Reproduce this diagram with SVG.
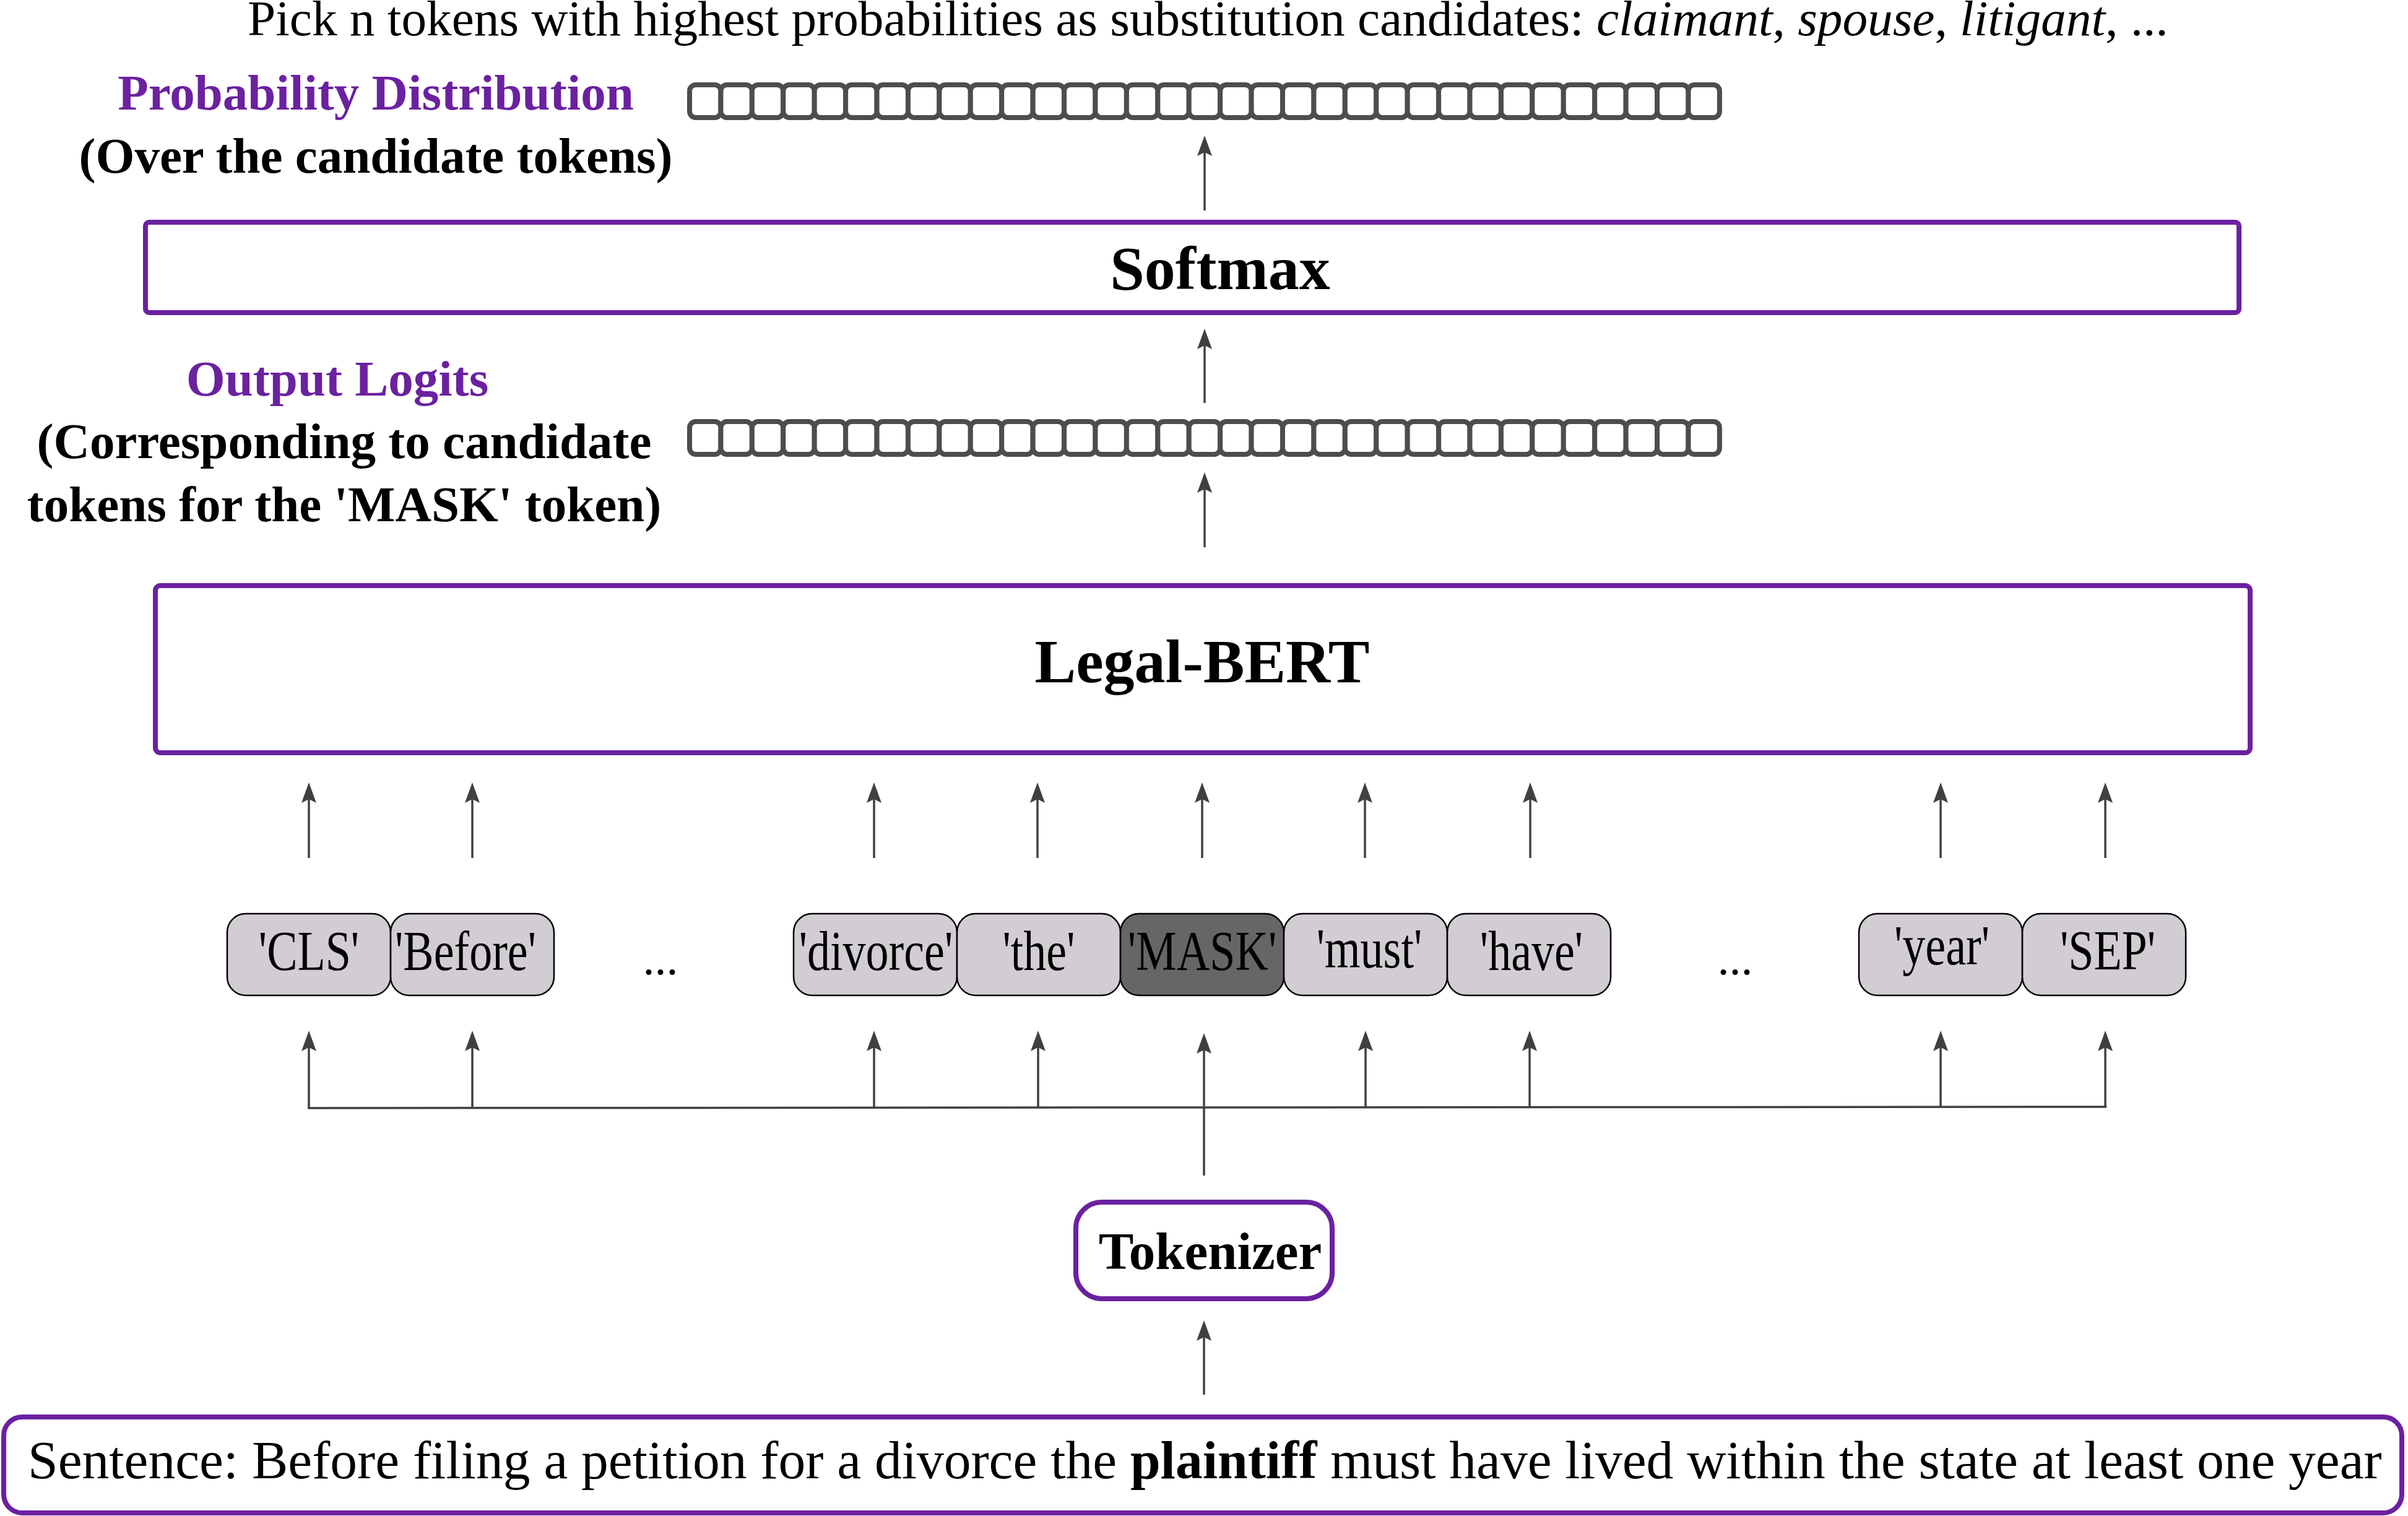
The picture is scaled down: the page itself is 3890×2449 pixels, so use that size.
<svg xmlns="http://www.w3.org/2000/svg" width="3890" height="2449" viewBox="0 0 3890 2449">
<style>
text{font-family:"Liberation Serif","Times New Roman",serif;fill:#000}
.b{font-weight:bold}
.pur{fill:#6B21A0}
.lbl{font-size:81px;font-weight:bold;text-anchor:middle}
.box{fill:#fff;stroke:#6B21A0;stroke-width:8}
.cell{fill:#fff;stroke:#4D4D4D;stroke-width:8}
.tok{fill:#D1CDD3;stroke:#000;stroke-width:2.5}
.tokd{fill:#666666;stroke:#000;stroke-width:2.5}
.tt{font-size:74px;text-anchor:middle}
.ar{stroke:#404040;stroke-width:3.5;fill:none;marker-end:url(#ah)}
.ln{stroke:#404040;stroke-width:3.5;fill:none}
</style>
<defs>
<marker id="ah" viewBox="0 -13 34 26" markerWidth="34" markerHeight="26" refX="6" refY="0" orient="auto" markerUnits="userSpaceOnUse">
<path d="M0,-12 L33,0 L0,12 L6,0 Z" fill="#404040"/>
</marker>
</defs>

<g id="top-note">
<text x="400" y="57" font-size="81.3">Pick n tokens with highest probabilities as substitution candidates: <tspan font-style="italic">claimant</tspan>, <tspan font-style="italic">spouse</tspan>, <tspan font-style="italic">litigant</tspan>, ...</text>
</g>

<g id="prob-label">
<text class="lbl pur" x="607" y="177">Probability Distribution</text>
<text class="lbl" x="607" y="279">(Over the candidate tokens)</text>
</g>

<g id="prob-vector">
<g transform="translate(0,137)">
<rect class="cell" x="1114.00" y="0" width="50.42" height="53" rx="10"/><rect class="cell" x="1164.42" y="0" width="50.42" height="53" rx="10"/><rect class="cell" x="1214.84" y="0" width="50.42" height="53" rx="10"/><rect class="cell" x="1265.26" y="0" width="50.42" height="53" rx="10"/><rect class="cell" x="1315.68" y="0" width="50.42" height="53" rx="10"/><rect class="cell" x="1366.10" y="0" width="50.42" height="53" rx="10"/><rect class="cell" x="1416.52" y="0" width="50.42" height="53" rx="10"/><rect class="cell" x="1466.94" y="0" width="50.42" height="53" rx="10"/><rect class="cell" x="1517.36" y="0" width="50.42" height="53" rx="10"/><rect class="cell" x="1567.78" y="0" width="50.42" height="53" rx="10"/><rect class="cell" x="1618.20" y="0" width="50.42" height="53" rx="10"/><rect class="cell" x="1668.62" y="0" width="50.42" height="53" rx="10"/><rect class="cell" x="1719.04" y="0" width="50.42" height="53" rx="10"/><rect class="cell" x="1769.46" y="0" width="50.42" height="53" rx="10"/><rect class="cell" x="1819.88" y="0" width="50.42" height="53" rx="10"/><rect class="cell" x="1870.30" y="0" width="50.42" height="53" rx="10"/><rect class="cell" x="1920.72" y="0" width="50.42" height="53" rx="10"/><rect class="cell" x="1971.14" y="0" width="50.42" height="53" rx="10"/><rect class="cell" x="2021.56" y="0" width="50.42" height="53" rx="10"/><rect class="cell" x="2071.98" y="0" width="50.42" height="53" rx="10"/><rect class="cell" x="2122.40" y="0" width="50.42" height="53" rx="10"/><rect class="cell" x="2172.82" y="0" width="50.42" height="53" rx="10"/><rect class="cell" x="2223.24" y="0" width="50.42" height="53" rx="10"/><rect class="cell" x="2273.66" y="0" width="50.42" height="53" rx="10"/><rect class="cell" x="2324.08" y="0" width="50.42" height="53" rx="10"/><rect class="cell" x="2374.50" y="0" width="50.42" height="53" rx="10"/><rect class="cell" x="2424.92" y="0" width="50.42" height="53" rx="10"/><rect class="cell" x="2475.34" y="0" width="50.42" height="53" rx="10"/><rect class="cell" x="2525.76" y="0" width="50.42" height="53" rx="10"/><rect class="cell" x="2576.18" y="0" width="50.42" height="53" rx="10"/><rect class="cell" x="2626.60" y="0" width="50.42" height="53" rx="10"/><rect class="cell" x="2677.02" y="0" width="50.42" height="53" rx="10"/><rect class="cell" x="2727.44" y="0" width="50.42" height="53" rx="10"/>
</g>
</g>

<g id="softmax">
<rect class="box" x="235" y="359" width="3382" height="146" rx="6"/>
<text class="b" x="1971" y="467" font-size="100" text-anchor="middle">Softmax</text>
</g>

<g id="logits-label">
<text class="lbl pur" x="545" y="639">Output Logits</text>
<text class="lbl" x="556" y="740">(Corresponding to candidate</text>
<text class="lbl" x="556" y="842">tokens for the 'MASK' token)</text>
</g>

<g id="logits-vector">
<g transform="translate(0,681)">
<rect class="cell" x="1114.00" y="0" width="50.42" height="53" rx="10"/><rect class="cell" x="1164.42" y="0" width="50.42" height="53" rx="10"/><rect class="cell" x="1214.84" y="0" width="50.42" height="53" rx="10"/><rect class="cell" x="1265.26" y="0" width="50.42" height="53" rx="10"/><rect class="cell" x="1315.68" y="0" width="50.42" height="53" rx="10"/><rect class="cell" x="1366.10" y="0" width="50.42" height="53" rx="10"/><rect class="cell" x="1416.52" y="0" width="50.42" height="53" rx="10"/><rect class="cell" x="1466.94" y="0" width="50.42" height="53" rx="10"/><rect class="cell" x="1517.36" y="0" width="50.42" height="53" rx="10"/><rect class="cell" x="1567.78" y="0" width="50.42" height="53" rx="10"/><rect class="cell" x="1618.20" y="0" width="50.42" height="53" rx="10"/><rect class="cell" x="1668.62" y="0" width="50.42" height="53" rx="10"/><rect class="cell" x="1719.04" y="0" width="50.42" height="53" rx="10"/><rect class="cell" x="1769.46" y="0" width="50.42" height="53" rx="10"/><rect class="cell" x="1819.88" y="0" width="50.42" height="53" rx="10"/><rect class="cell" x="1870.30" y="0" width="50.42" height="53" rx="10"/><rect class="cell" x="1920.72" y="0" width="50.42" height="53" rx="10"/><rect class="cell" x="1971.14" y="0" width="50.42" height="53" rx="10"/><rect class="cell" x="2021.56" y="0" width="50.42" height="53" rx="10"/><rect class="cell" x="2071.98" y="0" width="50.42" height="53" rx="10"/><rect class="cell" x="2122.40" y="0" width="50.42" height="53" rx="10"/><rect class="cell" x="2172.82" y="0" width="50.42" height="53" rx="10"/><rect class="cell" x="2223.24" y="0" width="50.42" height="53" rx="10"/><rect class="cell" x="2273.66" y="0" width="50.42" height="53" rx="10"/><rect class="cell" x="2324.08" y="0" width="50.42" height="53" rx="10"/><rect class="cell" x="2374.50" y="0" width="50.42" height="53" rx="10"/><rect class="cell" x="2424.92" y="0" width="50.42" height="53" rx="10"/><rect class="cell" x="2475.34" y="0" width="50.42" height="53" rx="10"/><rect class="cell" x="2525.76" y="0" width="50.42" height="53" rx="10"/><rect class="cell" x="2576.18" y="0" width="50.42" height="53" rx="10"/><rect class="cell" x="2626.60" y="0" width="50.42" height="53" rx="10"/><rect class="cell" x="2677.02" y="0" width="50.42" height="53" rx="10"/><rect class="cell" x="2727.44" y="0" width="50.42" height="53" rx="10"/>
</g>
</g>

<g id="legal-bert">
<rect class="box" x="251" y="946" width="3384" height="270" rx="8"/>
<text class="b" x="1942" y="1102" font-size="100" text-anchor="middle">Legal-BERT</text>
</g>

<g id="tok-cls"><rect class="tok" x="367" y="1476" width="264" height="132" rx="30"/><text class="tt" transform="matrix(1,0,0,1.22,499,1567)">'CLS'</text></g>
<g id="tok-before"><rect class="tok" x="631" y="1476" width="264" height="132" rx="30"/><text class="tt" transform="matrix(1,0,0,1.22,752,1567)">'Before'</text></g>
<g id="dots-1"><text font-size="76" x="1067" y="1574" text-anchor="middle">...</text></g>
<g id="tok-divorce"><rect class="tok" x="1282" y="1476" width="264" height="132" rx="30"/><text class="tt" transform="matrix(1,0,0,1.22,1415,1567)">'divorce'</text></g>
<g id="tok-the"><rect class="tok" x="1546" y="1476" width="264" height="132" rx="30"/><text class="tt" transform="matrix(1,0,0,1.22,1678,1567)">'the'</text></g>
<g id="tok-mask"><rect class="tokd" x="1810" y="1476" width="264" height="132" rx="30"/><text class="tt" transform="matrix(1,0,0,1.22,1942,1567)">'MASK'</text></g>
<g id="tok-must"><rect class="tok" x="2074" y="1476" width="264" height="132" rx="30"/><text class="tt" transform="matrix(1,0,0,1.22,2212,1563)">'must'</text></g>
<g id="tok-have"><rect class="tok" x="2338" y="1476" width="264" height="132" rx="30"/><text class="tt" transform="matrix(1,0,0,1.22,2474,1567)">'have'</text></g>
<g id="dots-2"><text font-size="76" x="2803" y="1574" text-anchor="middle">...</text></g>
<g id="tok-year"><rect class="tok" x="3003" y="1476" width="264" height="132" rx="30"/><text class="tt" transform="matrix(1,0,0,1.22,3137,1558)">'year'</text></g>
<g id="tok-sep"><rect class="tok" x="3267" y="1476" width="264" height="132" rx="30"/><text class="tt" transform="matrix(1,0,0,1.22,3405,1566)">'SEP'</text></g>

<g id="tokenizer">
<rect class="box" x="1738" y="1942" width="414" height="156" rx="42"/>
<text class="b" x="1955" y="2050" font-size="85" text-anchor="middle">Tokenizer</text>
</g>

<g id="sentence">
<rect class="box" x="6" y="2289" width="3874" height="155" rx="30"/>
<text x="45" y="2388" font-size="87.5">Sentence: Before filing a petition for a divorce the <tspan font-weight="bold">plaintiff</tspan> must have lived within the state at least one year</text>
</g>

<g id="connectors">
<line class="ar" x1="1946" y1="340" x2="1946" y2="246"/>
<line class="ar" x1="1946" y1="651" x2="1946" y2="558"/>
<line class="ar" x1="1946" y1="884" x2="1946" y2="790"/>

<line class="ar" x1="499" y1="1386" x2="499" y2="1291"/>
<line class="ar" x1="763" y1="1386" x2="763" y2="1291"/>
<line class="ar" x1="1412" y1="1386" x2="1412" y2="1291"/>
<line class="ar" x1="1676" y1="1386" x2="1676" y2="1291"/>
<line class="ar" x1="1942" y1="1386" x2="1942" y2="1291"/>
<line class="ar" x1="2205" y1="1386" x2="2205" y2="1291"/>
<line class="ar" x1="2472" y1="1386" x2="2472" y2="1291"/>
<line class="ar" x1="3135" y1="1386" x2="3135" y2="1291"/>
<line class="ar" x1="3401" y1="1386" x2="3401" y2="1291"/>

<line class="ln" x1="497" y1="1790" x2="3403" y2="1788" stroke-width="4.5"/>
<line class="ar" x1="499" y1="1790" x2="499" y2="1692"/>
<line class="ar" x1="763" y1="1790" x2="763" y2="1692"/>
<line class="ar" x1="1412" y1="1790" x2="1412" y2="1692"/>
<line class="ar" x1="1677" y1="1790" x2="1677" y2="1692"/>
<line class="ar" x1="1945" y1="1899" x2="1945" y2="1696"/>
<line class="ar" x1="2206" y1="1789" x2="2206" y2="1692"/>
<line class="ar" x1="2471" y1="1789" x2="2471" y2="1692"/>
<line class="ar" x1="3135" y1="1789" x2="3135" y2="1692"/>
<line class="ar" x1="3401" y1="1788" x2="3401" y2="1692"/>

<line class="ar" x1="1945" y1="2253" x2="1945" y2="2160"/>
</g>
</svg>
